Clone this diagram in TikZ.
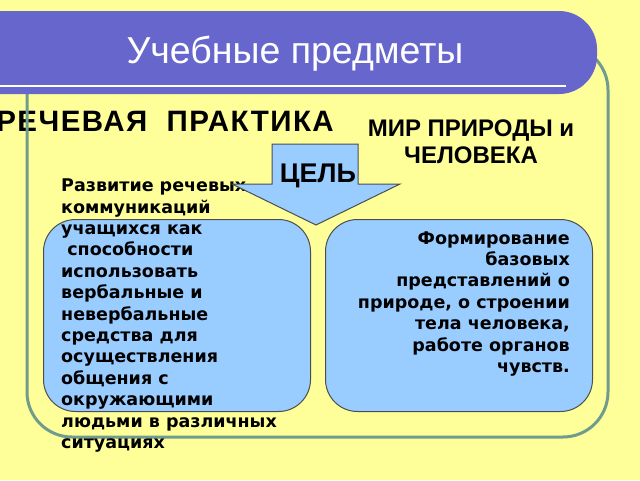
\documentclass[tikz,border=0pt]{standalone}
\usepackage{fontspec}
\setmainfont{Liberation Sans}[BoldFont={Liberation Sans Bold}]
\newfontfamily\headfont{Liberation Sans}[BoldFont={Liberation Sans Bold}, LetterSpace=5]
\newfontfamily\bodyfont{DejaVu Sans}
\definecolor{bgyellow}{HTML}{FFFF99}
\definecolor{barblue}{HTML}{6666CC}
\definecolor{frameline}{HTML}{6F9C8E}
\definecolor{boxfill}{HTML}{99CCFF}
\definecolor{boxline}{HTML}{4D4D4D}
\tikzset{
  bluebox/.style={draw=boxline, line width=1pt, fill=boxfill, rounded corners=32pt,
    rectangle, inner sep=0pt, minimum width=267pt, minimum height=192pt, anchor=north west},
  bodytext/.style={inner sep=0pt, font=\bodyfont\bfseries\fontsize{17.5}{21.4}\selectfont},
  headtext/.style={inner sep=0pt, font=\headfont\bfseries\fontsize{29.5}{33}\selectfont},
}
\begin{document}
\begin{tikzpicture}[x=1pt,y=-1pt]
\useasboundingbox (0,0) rectangle (640,480);
\clip (0,0) rectangle (640,480);
\fill[bgyellow] (0,0) rectangle (640,480);
% left heading (behind frame)
\node[headtext, anchor=base east] (speech) at (334,131) {РЕЧЕВАЯ\ \ ПРАКТИКА};
% outer frame
\draw[frameline, line width=3pt, rounded corners=45pt] (27,45) rectangle (608,437);
% title bar
\fill[barblue, rounded corners=38pt] (-60,11) rectangle (597,94);
\draw[white, line width=2pt] (-5,86) -- (566,86);
\node[inner sep=0pt, anchor=base, text=white, font=\fontsize{37.5}{42}\selectfont] (title) at (295,63) {Учебные предметы};
% right heading
\node[inner sep=0pt, anchor=base, align=center, font=\bfseries\fontsize{24}{27}\selectfont] (nature) at (471,163) {МИР ПРИРОДЫ и\\ЧЕЛОВЕКА};
% boxes
\node[bluebox] (lbox) at (43,219) {};
\node[bluebox] (rbox) at (325,219) {};
% texts
\node[bodytext, anchor=base west, align=left] (ltext) at (61,448.5) {Развитие речевых\\коммуникаций\\учащихся как\\\ способности\\использовать\\вербальные и\\невербальные\\средства для\\осуществления\\общения с\\окружающими\\людьми в различных\\ситуациях};
\node[bodytext, anchor=base east, align=right] (rtext) at (570,372.5) {Формирование\\базовых\\представлений о\\природе, о строении\\тела человека,\\работе органов\\чувств.};
% arrow
\draw[boxline, line width=1pt, fill=boxfill] (272,144) -- (358,144) -- (358,184) -- (400,184) -- (316,225) -- (232,184) -- (272,184) -- cycle;
\node[inner sep=0pt, anchor=base, font=\bfseries\fontsize{27}{30}\selectfont] (goal) at (318,182) {ЦЕЛЬ};
\end{tikzpicture}
\end{document}
